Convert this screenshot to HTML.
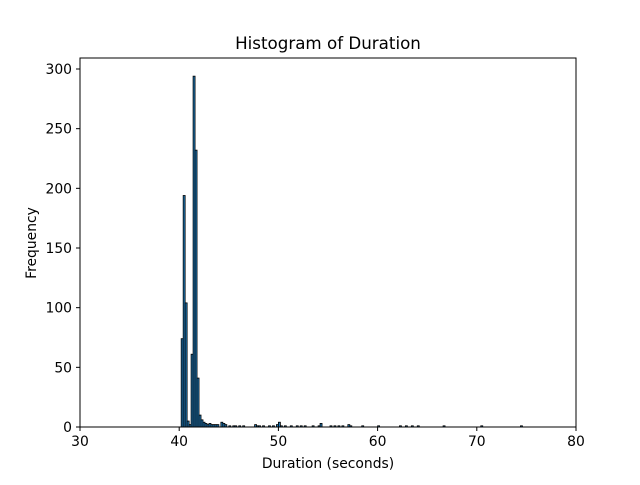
<!DOCTYPE html>
<html><head><meta charset="utf-8"><style>body{margin:0;background:#fff}svg{font-family:"DejaVu Sans","Liberation Sans",sans-serif}</style></head>
<body>
<svg id="chart" width="640" height="480">
<rect width="640" height="480" fill="#fff"/>
<text x="328" y="49" text-anchor="middle" font-size="16.7">Histogram of Duration</text>
<g id="bars"></g>
<rect x="80" y="58" width="496" height="369" fill="none" stroke="#000" stroke-width="1"/>
<g id="xt"></g><g id="yt"></g>
<text x="328" y="468" text-anchor="middle" font-size="13.9">Duration (seconds)</text>
<text transform="translate(36,243) rotate(-90)" text-anchor="middle" font-size="13.9">Frequency</text>
</svg>
<script>
const binStarts=[40.2,40.4,40.6,40.8,41.0,41.2,41.4,41.6,41.8,42.0,42.2,42.4,42.6,42.8,43.0,43.2,43.4,43.6,43.8,44.2,44.4,44.6,45.0,45.4,45.6,46.0,46.4,47.6,47.8,48.0,48.4,49.0,49.4,49.8,50.0,50.2,50.6,51.2,51.8,52.2,52.6,53.4,54.0,54.2,55.2,55.6,56.0,56.4,57.0,57.2,58.4,60.0,62.2,62.8,63.4,64.0,66.6,70.4,74.4];
const counts=[74,194,104,5,2,61,294,232,41,10,6,4,3,2,3,2,2,2,2,4,3,2,1,1,1,1,1,2,1,1,1,1,1,2,4,1,1,1,1,1,1,1,1,3,1,1,1,1,2,1,1,1,1,1,1,1,1,1,1];
const binWidth=0.2;
const xTicks=[30,40,50,60,70,80];
const yTicks=[0,50,100,150,200,250,300];
const NS="http://www.w3.org/2000/svg";
const X=v=>80+(v-30)*496/50, Y=v=>427-v*358/300;
const bars=document.getElementById('bars');
binStarts.forEach((s,i)=>{const r=document.createElementNS(NS,'rect');
r.setAttribute('x',X(s));r.setAttribute('width',X(s+binWidth)-X(s));
r.setAttribute('y',Y(counts[i]));r.setAttribute('height',427-Y(counts[i]));
r.setAttribute('fill','#1f77b4');r.setAttribute('stroke','#000');r.setAttribute('stroke-width','0.8');


bars.appendChild(r);});
const xt=document.getElementById('xt');
xTicks.forEach(t=>{const l=document.createElementNS(NS,'line');l.setAttribute('x1',X(t));l.setAttribute('x2',X(t));l.setAttribute('y1',427);l.setAttribute('y2',431);l.setAttribute('stroke','#000');


xt.appendChild(l);
const tx=document.createElementNS(NS,'text');tx.setAttribute('x',X(t));tx.setAttribute('y',446);tx.setAttribute('text-anchor','middle');tx.setAttribute('font-size','13.9');tx.textContent=t;


xt.appendChild(tx);});
const yt=document.getElementById('yt');
yTicks.forEach(t=>{const l=document.createElementNS(NS,'line');l.setAttribute('x1',76);l.setAttribute('x2',80);l.setAttribute('y1',Y(t));l.setAttribute('y2',Y(t));l.setAttribute('stroke','#000');


yt.appendChild(l);
const tx=document.createElementNS(NS,'text');tx.setAttribute('x',72);tx.setAttribute('y',Y(t)+5);tx.setAttribute('text-anchor','end');tx.setAttribute('font-size','13.9');tx.textContent=t;


yt.appendChild(tx);});
</script>
</body></html>
